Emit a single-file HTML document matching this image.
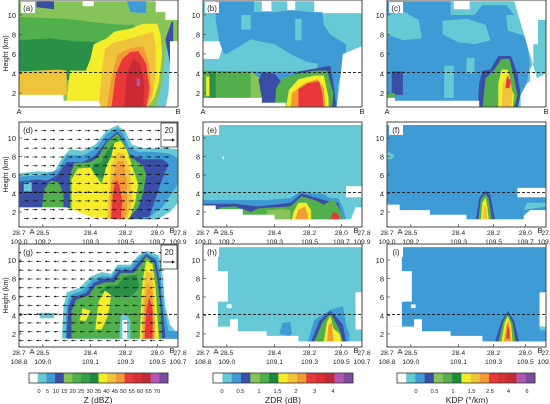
<!DOCTYPE html>
<html><head><meta charset="utf-8"><style>
html,body{margin:0;padding:0;background:#fff;}
svg{display:block;font-family:"Liberation Sans",sans-serif;}
</style></head><body>
<svg id="fig" width="550" height="404" viewBox="0 0 550 404" xmlns="http://www.w3.org/2000/svg"></svg>
<script>
const NS="http://www.w3.org/2000/svg";
const svg=document.getElementById('fig');
const cols=[19,203,387], W=159;
const rows=[{top:0,bot:107,y10:15,s:9.75},{top:122,bot:227,y10:138,s:9.25},{top:244,bot:347,y10:260,s:9.25}];
const yTicks=[2,4,6,8,10];
const latLabels=["28.7","28.5","28.4","28.2","28.0","27.8"];
const latFrac=[0,15,45,67,87,100];
const lonRow2=["109.0","109.2","109.3","109.5","109.7","109.9"];
const lonRow3=["108.8","109.0","109.1","109.3","109.5","109.7"];
const zColors=["#ffffff","#67c9d6","#3f9bd6","#3b4ea6","#86c45a","#52b04c","#34a048","#1e8a3e","#f5ec2a","#f0c43a","#f29a36","#e8383a","#d83030","#c02a34","#b456b4","#7a4e9e"];
const zLabels=["0","5","10","15","20","25","30","35","40","45","50","55","60","65","70"];
const dColors=["#ffffff","#67c9d6","#3f9bd6","#3b4ea6","#86c45a","#52b04c","#1e8a3e","#f5ec2a","#f0c43a","#f29a36","#e8383a","#d83030","#c02a34","#b456b4","#7a4e9e"];
const zdrLabels=["0","0.5","1","1.5","2","3","4"];
const kdpLabels=["0","0.5","1","1.5","2.5","4","6"];

const C={w:"#ffffff",cy:"#67c9d6",bl:"#3f9bd6",nv:"#3b4ea6",lg:"#86c45a",gr:"#52b04c",dg:"#2a9048",ye:"#f5ec2a",go:"#f0c43a",or:"#f29a36",re:"#e8383a",dr:"#cc2a32",mg:"#b456b4"};
const shapesA=[
["lg",[0,11.4,100,11.4,100,0.4,0,0.4]],
["nv",[11,11.4,22,11.4,22,10.6,11,10.8]],
["bl",[68,11.4,80,11.4,80,10.2,70,10.3]],
["w",[40,11.4,47,11.4,47,10.9,40,10.9]],
["w",[86,11.4,100,11.4,100,9.5,92,9.5,92,10.3,86,10.3]],
["gr",[0,9.8,30,9.6,50,9.2,65,9.0,72,9,75,8.5,75,6,55,5,40,4.5,0,4.5]],
["dg",[0,7.4,20,7.6,35,7.3,50,7.2,62,7.4,70,8.4,72,6.8,60,5.5,45,4.3,40,3.3,0,3.3]],
["ye",[30,1.2,32,4.3,42,4.3,45,5.5,47,7,55,7.6,60,8.3,70,8.6,78,9.1,87,9.1,89,8,90,6,88,3,85,1.5,80,0.4,50,0.4,50,1.2]],
["go",[0,4.2,25,4.4,30,4.3,30,1.8,0,1.8]],
["go",[50,0.4,52,4,54,6.5,60,7.2,68,7.5,78,8,84,8.3,86,7,86,4,84,1.5,80,0.4]],
["or",[55,0.4,58,3.5,62,6,70,6.6,78,6.8,82,5,83,2,80,0.4]],
["re",[58,0.4,61,4,65,5.5,70,6.2,75,6.3,80,5,82,2.5,80,0.4]],
["dr",[66,0.4,68,4,72,5.5,76,5,79,3,78,0.4]],
["mg",[74,2.7,76,2.7,76,3.5,74,3.5]],
["cy",[86,0.4,90,3,92,6,93,7.5,96,7.5,96,5,94,2,92,0.4]],
["nv",[92,7.5,96,9.3,97,9.3,97,7,95,5]],
["w",[95,7.3,100,7.3,100,0.4,92,0.4,94,2,95,5]],
["w",[0,1.8,28,1.8,28,1.2,50,1.2,52,0.4,0,0.4]]
];
const shapesB=[
["cy",[0,11.4,70,11.4,70,10.2,100,10.2,100,6.8,88,6,88,0.4,0,0.4]],
["bl",[8,11.4,32,11.4,32,10.3,45,10.3,55,10.5,68,10.3,75,10.3,76,9,80,8,90,7,90,5,85,3,84,0.4,55,0.4,30,4,15,5,10,7.5,8,9.5]],
["cy",[0,6.5,15,6,30,7.5,45,7,55,6,65,5.2,72,5,72,4.2,0,4.2]],
["cy",[24,10,30,10,30,8.5,24,8.5]],["cy",[58,9.6,62,9.6,62,7.4,58,7.4]],
["w",[0,7.3,10,7.3,12,6.5,10,5.5,0,5.5]],
["w",[37,11.4,43,11.4,43,10.4,37,10.4]],["w",[53,11.4,58,11.4,58,10.5,53,10.5]],
["gr",[0,4.3,30,4.2,35,3.5,37,3.3,37,1.5,0,1.5]],
["lg",[30,4.2,37,3.4,37,1.5,30,1.5]],
["dg",[4,4.2,8,4.2,8,1.5,4,1.5]],
["ye",[2,3.7,4,3.7,4,1.7,2,1.7]],
["nv",[35,3.3,37,4.1,45,4,50,3,60,4.2,70,4.5,80,4.8,82,3,84,0.4,37,0.4,37,1.5]],
["gr",[45,0.4,46,2.5,50,3.5,60,4,70,4.3,78,4.3,82,2,81,0.4]],
["ye",[52,0.4,54,2.3,60,3.4,70,3.8,76,3.8,79,1.5,79,0.4]],
["or",[55,0.4,56,2,64,3,72,3.4,76,2.5,77,0.4]],
["re",[60,0.4,60,2.4,66,3,73,3.2,75,2,76,0.4]],
["w",[0,1.5,37,1.5,37,1,52,1,52,0.4,0,0.4]],
["w",[84,0.4,86,3,88,6,100,6.8,100,0.4]]
];
const shapesC=[
["cy",[0,11.4,100,11.4,100,0.4,0,0.4]],
["bl",[0,11.4,40,11.4,40,10,55,10,60,11,75,11,80,10,85,9,88,7,90,5,88,3,85,1.8,60,0.4,0,0.4]],
["cy",[0,10,10,10.4,20,9.5,22,7.6,10,7.4,0,8]],
["cy",[35,9.4,50,9.6,62,9,65,7.4,55,7,45,7.2,35,8]],
["cy",[75,10,88,10,95,9.5,100,9.5,100,8,88,7.8,76,8.4]],
["cy",[36,4.8,42,4.8,42,1.5,36,1.5]],["cy",[50,5.6,55,5.6,55,4,50,4]],
["w",[42,11.4,52,11.4,52,10.6,42,10.6]],
["w",[80,11.4,100,11.4,100,9.5,95,9.5,95,7,92,7,92,5,90,4.5,90,0.4,100,0.4]],
["nv",[3,1.8,10,1.8,10,4.2,3,4.2]],
["gr",[0,1.5,5,1.5,5,2,0,2]],
["nv",[57,0.4,58,3,60,4.3,65,4.4,70,5.8,78,5.8,82,4,84,1.8,82,0.4]],
["gr",[60,0.4,62,3.5,68,4.5,72,5.5,77,5.5,80,3.5,82,1.8,80,0.4]],
["ye",[70,0.4,70,3,72,4.4,76,4.4,78,2.5,80,1.8,79,0.4]],
["go",[72,0.4,73,3,77,4,79,1.8,78,0.4]],
["re",[74.5,2.5,75.5,3.8,78,3.2,77,2.5]],
["w",[0,1.5,5,1.5,5,1.2,58,1.2,58,0.4,0,0.4]],
["w",[84,0.4,84,1.8,88,3,100,4,100,0.4]]
];
const shapesD=[
["cy",[0,6.2,12,6.4,22,6.3,27,7.8,32,8.8,40,8.6,48,9.3,55,10.8,62,11.4,67,10.7,71,9.3,78,8.9,85,8.9,92,8.9,100,8.8,100,3,95,2,85,1,75,0.9,60,0.9,55,1.3,45,1.5,30,2.5,0,2.5]],
["bl",[0,5.8,15,6,25,6.6,30,8.2,40,8.1,48,8.8,55,10.4,62,11.1,66,10.4,69,9,75,8.5,85,8.5,95,8.3,100,7.8,100,5,96,4,90,2.5,80,1.2,60,1,45,1.5,30,2.5,0,2.5]],
["nv",[0,5.3,12,5.5,18,5.4,24,6,30,7.4,40,7.4,48,8.1,55,9.7,62,10.7,65,10,69,8.3,78,7.7,90,7.7,94,7.2,90,5.5,86,3.5,82,1.5,60,1,45,1.5,30,2.4,0,2.5]],
["cy",[3,5.2,8,5.2,8,4.2,3,4.2]],
["gr",[14,2,16,4.5,20,5.4,25,5.2,28,4,28,2]],
["gr",[32,1.2,32,6,35,7.3,45,7.4,50,8,55,9.5,62,10.5,66,9.5,70,8,78,7,80,6,78,4,75,2.5,70,1.5,68,1,45,1.1]],
["dg",[45,6,47,7.2,52,7.4,55,8.5,62,10,64,8.5,60,6.5,55,5.5]],
["ye",[33,1.2,33,5.5,37,6.7,45,6.8,48,6,52,5,55,7,58,8,60,9.5,64,9.7,68,8.6,72,6.5,75,5,73,3,70,1.5,68,1.1,40,1.2]],
["go",[55,1.2,57,5,58,7,62,8.5,66,8.3,70,6.5,71,3,68,1.2]],
["or",[57,1.2,58,5,62,7.5,66,7.5,68,5,68,2,66,1.2]],
["re",[58,1.2,59,4,61,5.5,63,5,65,3,64,1.2]],
["w",[0,2.5,30,2.5,45,1.5,55,1.3,60,1.2,60,0.4,0,0.4]],
["w",[60,0.4,60,1.2,100,1.2,100,0.4]]
];
const shapesG=[
["cy",[27,1.5,28,5,30,6.5,38,7,45,8.2,52,8.7,58,8.5,62,9.5,70,9.5,75,10.5,80,11,88,10.5,90,9,92,5,95,3,100,2,100,1.5]],
["bl",[29,1.6,30,5,32,6.2,40,6.7,46,7.8,52,8.3,58,8.2,62,9.2,70,9.2,75,10.2,80,10.8,87,10.2,89,8.5,91,5,94,2.3,100,2.3,100,1.5]],
["nv",[30,1.7,31,5,34,6,42,6.4,47,7.5,53,8,58,7.9,63,8.9,71,8.9,76,9.9,80,10.6,86,10,88,8.3,90,5,92,1.8,100,1.5,30,1.5]],
["gr",[33,1.8,33,4.5,36,5.7,44,6.2,48,7.2,54,7.6,60,7.6,64,8.6,72,8.6,77,9.6,80,10.4,85,9.7,87,8,89,5,90,1.5,33,1.5]],
["dg",[50,6.5,55,7.2,62,7.3,66,8.2,74,8.4,76,7,70,6,60,6]],
["ye",[38,3.5,40,4.8,45,4.5,42,3.4]],
["ye",[48,2.5,50,5.5,54,6.7,58,6.2,56,4,52,2.5]],
["ye",[76,1.5,77,6,78,8,80,10,84,9.5,86,7,87,4,88,1.5]],
["go",[77,1.5,78,6,80,8.8,84,8.5,85,5,86,1.5]],
["or",[78,1.5,79,5.5,81,7.5,84,6.5,85,1.5]],
["re",[79,1.5,80,4.5,82,6,84,4.5,84,1.5]],
["cy",[63,1.5,64,4,67,4.3,70,3.5,70,1.5]],
["w",[65,1.5,65,3.5,68,3.5,68,1.5]],
["cy",[13,3.7,22,3.7,22,4.3,13,4.3]],
["bl",[92,1.5,100,1.5,100,2.3,92,2.3]]
];
const shapesE=[
["cy",[5,11.4,100,11.4,100,4.8,90,4.8,90,3.6,100,3.6,100,2.5,96,2.5,93,1,0,1,0,10.3,5,10.3]],
["w",[12,8,13,8,13,7.6]],
["bl",[0,3.3,20,3.3,40,3.3,55,3.5,62,4.3,68,4,75,4,80,3.5,85,3.5,88,2.5,90,1.2,0,1.2]],
["nv",[0,2.9,20,2.9,35,2.6,45,2.8,55,3,62,4,70,3.6,78,3.2,85,3,88,1.2,0,1.2]],
["gr",[10,2.5,20,2.6,30,2,35,2.4,45,2.5,55,2.6,62,3.7,70,3.3,76,2.8,82,3.4,86,2.3,88,1.2,10,1.2]],
["lg",[40,2.2,50,2.3,55,2.2,55,1.2,40,1.2]],
["ye",[56,1.2,57,2,60,3,65,3,68,2.2,68,1.2]],
["or",[58,1.2,60,2.2,64,2.6,66,1.6,66,1.2]],
["re",[80,1.2,82,2,85,1.8,86,1.2]],
["w",[0,2.7,8,2.7,8,2.3,25,2.3,25,1.7,45,1.7,45,1.2,90,1.2,90,0.4,0,0.4]],
["w",[90,0.4,100,0.4,100,2.5,96,2.5,93,1.2,90,1.2]]
];
const shapesF=[
["bl",[0,11.4,100,11.4,100,4.6,82,4.6,82,3.6,100,3.6,100,1.2,0,1.2]],
["cy",[0,8.6,5,8.1,3,7.7,0,7.7]],
["cy",[86,2.2,100,2.6,100,3,88,3]],
["nv",[56,1.2,58,3.5,62,4.3,65,3.8,67,2,68,1.2]],
["gr",[57.5,1.2,59,3.4,62,4,64,3.4,66,1.2]],
["ye",[59,1.2,60,3,62,3.6,63,2.6,64,1.2]],
["go",[60,1.2,61,2.8,62.5,2.4,63,1.2]],
["w",[0,2.8,8,2.8,8,2.2,27,2.2,27,1.7,50,1.7,50,1.2,86,1.2,86,1.6,90,2.2,100,2.2,100,0.4,0,0.4]]
];
const shapesH=[
["cy",[9.4,11.4,100,11.4,100,6.5,96,6.5,96,2.5,100,2.5,100,0.4,0,0.4,0,11.4]],
["w",[0,11.4,9.4,11.4,9.4,8.8,15.6,8.8,15.6,5.5,9.4,5.5,9.4,2.8,0,2.8]],
["w",[15,4.8,18,4.8,18,5.2,15,5.2]],
["w",[0,2.8,17,2.8,17,3.6,22,3.6,22,2.3,40,2.3,40,1.8,60,1.8,60,1.2,100,1.2,100,0.4,0,0.4]],
["bl",[48,2,50,3.2,55,3.3,56,2,54,1.8]],
["bl",[66,1.2,70,3.5,80,4.6,88,5,90,3,92,2,92,1.2]],
["nv",[68,1.2,73,3.4,80,4.5,84,3.8,88,3,90,1.2]],
["gr",[70,1.2,75,3.2,80,4.3,83,3.4,86,2.4,88,1.2]],
["ye",[76,1.2,78,3.3,80,4,82,2.6,86,2,87,1.2]],
["or",[78,1.2,79,3,81,3.2,82,1.2]],
["w",[96,6.5,100,6.5,100,2.5,96,2.5]]
];
const shapesI=[
["bl",[9.4,11.4,100,11.4,100,6.5,96,6.5,96,2.8,100,2.8,100,0.4,0,0.4,0,11.4]],
["w",[0,11.4,9.4,11.4,9.4,8.8,15.6,8.8,15.6,5.5,9.4,5.5,9.4,2.8,0,2.8]],
["w",[15,4.8,18,4.8,18,5.2,15,5.2]],
["w",[0,2.8,17,2.8,17,3.6,22,3.6,22,2.3,40,2.3,40,1.8,60,1.8,60,1.2,100,1.2,100,0.4,0,0.4]],
["w",[96,6.5,100,6.5,100,2.8,96,2.8]],
["cy",[96,2.8,100,2.8,100,2.4,96,2.4]],
["nv",[68,1.2,72,3.4,76,4.5,80,3.4,83,1.2]],
["gr",[70,1.2,73,3.3,76,4.3,79,3.2,81,1.2]],
["ye",[72,1.2,74,3.2,76,3.9,78,3,79,1.2]],
["or",[73.5,1.2,75,3,76.5,3.4,77.5,2.4,78,1.2]],
["re",[75,1.5,76,3,77,2.4,77,1.5]]
];
const panels=[
{id:"a",c:0,r:0,sh:shapesA},{id:"b",c:1,r:0,sh:shapesB},{id:"c",c:2,r:0,sh:shapesC},
{id:"d",c:0,r:1,sh:shapesD,arrows:1},{id:"e",c:1,r:1,sh:shapesE},{id:"f",c:2,r:1,sh:shapesF},
{id:"g",c:0,r:2,sh:shapesG,arrows:-1},{id:"h",c:1,r:2,sh:shapesH},{id:"i",c:2,r:2,sh:shapesI}];

function el(tag,attrs,parent){const e=document.createElementNS(NS,tag);for(const k in attrs)e.setAttribute(k,attrs[k]);(parent||svg).appendChild(e);return e;}
function txt(s,x,y,size,anchor,parent){const t=el('text',{x:x,y:y,'font-size':size,'text-anchor':anchor||'middle',fill:'#222'},parent);t.textContent=s;return t;}
function xs(c,f){return cols[c]+f/100*W;}
function ys(r,k){const R=rows[r];return R.y10+(10-k)*R.s;}

const defs=el('defs',{});
panels.forEach(p=>{
  const R=rows[p.r], x0=cols[p.c];
  const cp=el('clipPath',{id:'cp'+p.id},defs);
  el('rect',{x:x0,y:R.top,width:W,height:R.bot-R.top},cp);
  const g=el('g',{'clip-path':'url(#cp'+p.id+')'});
  
  
  p.sh.forEach(s=>{
    const pts=[];for(let i=0;i<s[1].length;i+=2)pts.push(xs(p.c,s[1][i]).toFixed(1)+','+ys(p.r,s[1][i+1]).toFixed(1));
    const pg=el('polygon',{points:pts.join(' '),fill:C[s[0]]},g);
    
    
  });
  if(p.arrows){
    const ag=el('g',{stroke:'#111','stroke-width':0.6,fill:'#111'},g);
    
    
    for(let k=10.8;k>1;k-=0.95){
      for(let f=3;f<94;f+=5.5){
        const x=xs(p.c,f), y=ys(p.r,k), L=5*p.arrows;
        el('line',{x1:x,y1:y,x2:x+L,y2:y},ag);
        el('polygon',{points:(x+L)+','+y+' '+(x+L-2*p.arrows)+','+(y-1)+' '+(x+L-2*p.arrows)+','+(y+1),stroke:'none'},ag);
      }
    }
    const lb=el('g',{});
    
    
    el('rect',{x:x0+W-17,y:R.top+1,width:16,height:24,fill:'#fff',stroke:'#222','stroke-width':0.7},lb);
    txt('20',x0+W-9,R.top+11,8,'middle',lb);
    el('line',{x1:x0+W-15,y1:R.top+18,x2:x0+W-4,y2:R.top+18,stroke:'#111','stroke-width':0.8},lb);
    el('polygon',{points:(x0+W-3)+','+(R.top+18)+' '+(x0+W-6)+','+(R.top+16.5)+' '+(x0+W-6)+','+(R.top+19.5)},lb);
  }
  const dl=el('line',{x1:x0,x2:x0+W,y1:ys(p.r,4.1),y2:ys(p.r,4.1),stroke:'#111','stroke-width':0.9,'stroke-dasharray':'3,2'});
  
  
  const fr=el('rect',{x:x0,y:R.top,width:W,height:R.bot-R.top,fill:'none',stroke:'#444','stroke-width':1});
  
  
  const lg=el('g',{});
  
  
  el('rect',{x:x0+2,y:R.top+2,width:14,height:11,fill:'#fff'},lg);
  txt('('+p.id+')',x0+9,R.top+11,8,'middle',lg);
  yTicks.forEach(v=>{
    const y=ys(p.r,v);
    el('line',{x1:x0,x2:x0+3,y1:y,y2:y,stroke:'#444','stroke-width':0.7});
    const t=txt(String(v),x0-3,y+3,7.5,'end');
    
    
  });
  if(p.c==0){
    const t=el('text',{x:0,y:0,'font-size':7,'text-anchor':'middle',fill:'#222',transform:'translate(8,'+((R.top+R.bot)/2)+') rotate(-90)'});
    t.textContent='Height (km)';
    
    
  }
  if(p.r==0){
    txt('A',x0,R.bot+7,7.5,'middle');txt('B',x0+W,R.bot+7,7.5,'middle');
  } else {
    const lon=p.r==1?lonRow2:lonRow3;
    latLabels.forEach((s,i)=>{
      const x=xs(p.c,latFrac[i]);
      const t1=txt(s,x+(i==5?2:0),R.bot+8,6.8,'middle');
      
      
      const t2=txt(lon[i],x,R.bot+17,6.8,'middle');
      
      
      el('line',{x1:x,x2:x,y1:R.bot,y2:R.bot-3,stroke:'#444','stroke-width':0.7});
    });
    txt('A',x0+13,R.bot+7,7.5,'middle');txt('B',x0+W-6,R.bot+6,7.5,'middle');
  }
});

function colorbar(x0,x1,colors,labels,lx0,lstep,title,tx,name){
  const g=el('g',{});
  
  
  const w=(x1-x0)/colors.length;
  colors.forEach((c,i)=>el('rect',{x:x0+i*w,y:373,width:w+0.3,height:10,fill:c},g));
  el('rect',{x:x0,y:373,width:x1-x0,height:10,fill:'none',stroke:'#333','stroke-width':0.8},g);
  labels.forEach((s,i)=>txt(s,lx0+i*lstep,393,5.8,'middle',g));
  const t=txt(title,tx,403,8.5,'middle',g);
  
  
}
colorbar(29,168,zColors,zLabels,39,8.43,'Z (dBZ)',98,'z-colorbar');
colorbar(213,353,dColors,zdrLabels,222,18.5,'ZDR (dB)',283,'zdr-colorbar');
colorbar(397,535,dColors,kdpLabels,416,18.5,'KDP (°/km)',467,'kdp-colorbar');
</script>
</body></html>
